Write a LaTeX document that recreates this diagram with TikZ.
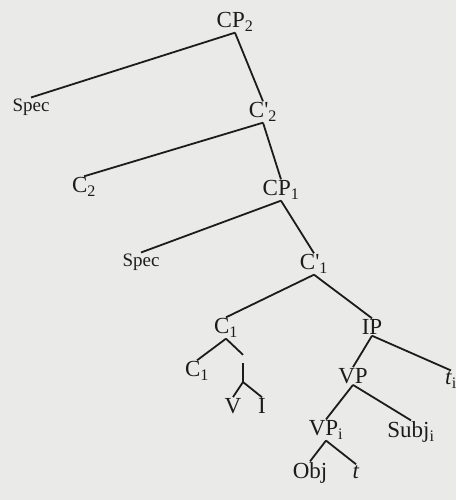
\documentclass[tikz,border=0pt]{standalone}
\usepackage{fontspec}
\setmainfont{Liberation Serif}
\usepackage{tikz}
\definecolor{pgpaper}{HTML}{EAEAE8}
\definecolor{pgink}{HTML}{1C1C1C}
\newcommand{\lsub}[1]{\textsubscript{#1}}

\begin{document}
\begin{tikzpicture}[x=1pt,y=-1pt,
  lab/.style={inner sep=1pt,text=pgink,font=\fontsize{23}{25}\selectfont},
  slab/.style={lab,font=\fontsize{19}{21}\selectfont},
  br/.style={draw=pgink,line width=1.8pt}]
\fill[pgpaper] (0,0) rectangle (456,500);
\useasboundingbox (0,0) rectangle (456,500);
\node[lab] (cp2) at (235,22) {CP\lsub{2}};\node[slab] (spec2) at (31,107) {Spec};\node[lab] (cb2) at (263,112) {C\textquotesingle\lsub{2}};
\node[lab] (c2) at (84,187) {C\lsub{2}};\node[lab] (cp1) at (281,190) {CP\lsub{1}};
\node[slab] (spec1) at (141,262) {Spec};\node[lab] (cb1) at (314,264) {C\textquotesingle\lsub{1}};
\node[lab] (cc1) at (226,328) {C\lsub{1}};\node[lab] (ip) at (372,327) {IP};
\node[lab] (c1) at (197,371) {C\lsub{1}};\node[inner sep=0pt,minimum height=8pt] (ce) at (243,359) {};\coordinate (cv) at (243,382);
\node[lab] (v) at (233,406) {V};\node[lab] (i) at (262,406) {I};
\node[lab] (vp) at (353,376) {VP};\node[lab] (ti) at (451,380) {\textit{t}\lsub{i}};
\node[lab] (vpi) at (326,430) {VP\lsub{i}};\node[lab] (subj) at (411,432) {Subj\lsub{i}};
\node[lab] (obj) at (310,473) {Obj};\node[lab] (t) at (356,472) {\textit{t}};
\draw[br] (cp2.south) -- (spec2.north);\draw[br] (cp2.south) -- (cb2.north);
\draw[br] (cb2.south) -- (c2.north);\draw[br] (cb2.south) -- (cp1.north);
\draw[br] (cp1.south) -- (spec1.north);\draw[br] (cp1.south) -- (cb1.north);
\draw[br] (cb1.south) -- (cc1.north);\draw[br] (cb1.south) -- (ip.north);
\draw[br] (cc1.south) -- (c1.north);\draw[br] (cc1.south) -- (ce.north);\draw[br] (ce.south) -- (cv);
\draw[br] (cv) -- (v.north);\draw[br] (cv) -- (i.north);
\draw[br] (ip.south) -- (vp.north);\draw[br] (ip.south) -- (ti.north);
\draw[br] (vp.south) -- (vpi.north);\draw[br] (vp.south) -- (subj.north);
\draw[br] (vpi.south) -- (obj.north);\draw[br] (vpi.south) -- (t.north);
\end{tikzpicture}
\end{document}
